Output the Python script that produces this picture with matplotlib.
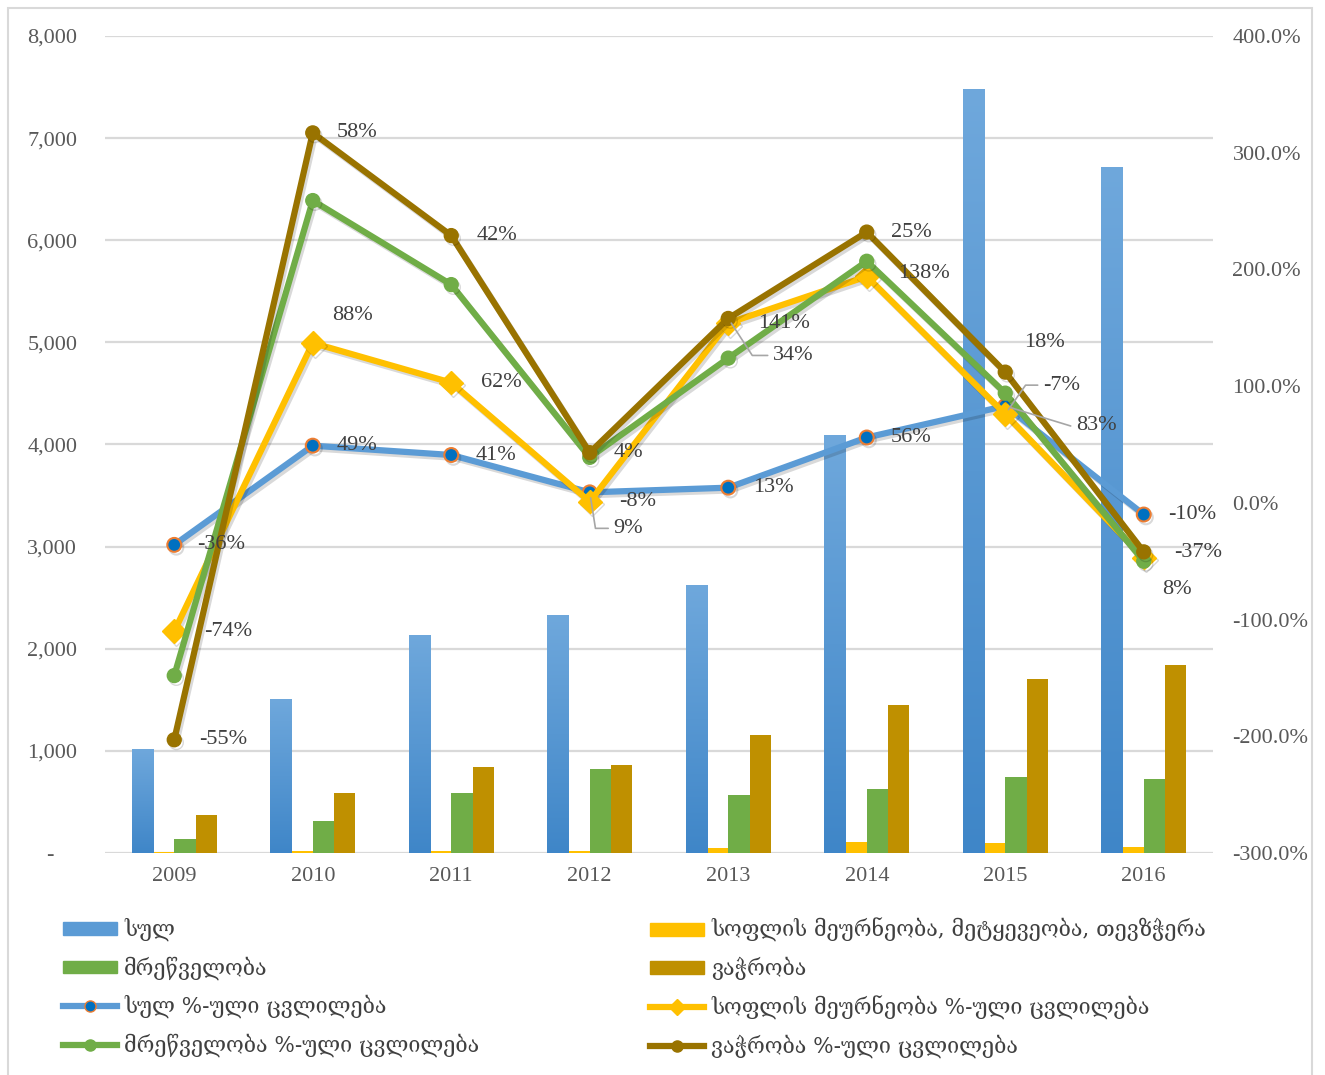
import numpy as np
import matplotlib
matplotlib.use("Agg")
import matplotlib.pyplot as plt
from matplotlib import patheffects as pe
from matplotlib.patches import Rectangle
from matplotlib.lines import Line2D
from matplotlib.ticker import FuncFormatter, MultipleLocator
from matplotlib.colors import LinearSegmentedColormap

# ---------------- data ----------------
years = ["2009", "2010", "2011", "2012", "2013", "2014", "2015", "2016"]

bar_names = ["სულ", "სოფლის მეურნეობა, მეტყევეობა, თევზჭერა", "მრეწველობა", "ვაჭრობა"]
total = [1020, 1510, 2135, 2330, 2625, 4095, 7485, 6720]
agri = [8, 15, 24, 22, 45, 110, 100, 62]
industry = [137, 313, 588, 823, 568, 627, 744, 725]
trade = [372, 588, 842, 862, 1156, 1450, 1704, 1841]

line_names = ["სულ %-ული ცვლილება", "სოფლის მეურნეობა %-ული ცვლილება",
              "მრეწველობა %-ული ცვლილება", "ვაჭრობა %-ული ცვლილება"]
total_pct = [-36, 49, 41, 9, 13, 56, 83, -10]
agri_pct = [-74, 88, 62, -8, 141, 138, -7, -37]
industry_pct = [-38, 122, 84, 38, -30, 13, 18, -3]
trade_pct = [-55, 58, 42, 4, 34, 25, 18, 8]

# labels shown on chart
total_lbl = ["-36%", "49%", "41%", "9%", "13%", "56%", "83%", "-10%"]
agri_lbl = ["-74%", "88%", "62%", "-8%", "141%", "138%", "-7%", "-37%"]
trade_lbl = ["-55%", "58%", "42%", "4%", "34%", "25%", "18%", "8%"]

# ---------------- style ----------------
c_blue = "#5B9BD5"
c_yellow = "#FFC000"
c_green = "#70AD47"
c_brown_bar = "#BF9000"
c_brown_line = "#997300"
txt_col = "#595959"
lbl_col = "#404040"
serif = ["Liberation Serif", "DejaVu Serif"]
geo = ["DejaVu Serif", "DejaVu Sans"]
fs = 16

W, H = 1325, 1075
fig = plt.figure(figsize=(W / 100, H / 100), dpi=100)
fig.patch.set_facecolor("white")
ax = fig.add_axes([105 / W, 1 - 853 / H, (1213 - 105) / W, (853 - 36) / H])
ax2 = ax.twinx()

x = np.arange(len(years))
w = 0.154
bars_blue = ax.bar(x - 1.5 * w, total, w, color=c_blue, zorder=2)
bars_y = ax.bar(x - 0.5 * w, agri, w, color=c_yellow, zorder=2)
bars_g = ax.bar(x + 0.5 * w, industry, w, color=c_green, zorder=2)
bars_b = ax.bar(x + 1.5 * w, trade, w, color=c_brown_bar, zorder=2)

# subtle vertical gradient on the blue bars
grad = np.linspace(0, 1, 256).reshape(-1, 1)
cmap_blue = LinearSegmentedColormap.from_list("b", ["#3F86C8", "#6FA8DC"])
for b in bars_blue:
    x0, wd, ht = b.get_x(), b.get_width(), b.get_height()
    im = ax.imshow(grad, extent=[x0, x0 + wd, 0, ht], origin="lower",
                   cmap=cmap_blue, aspect="auto", zorder=2.1)
    im.set_clip_path(b)

ax.set_xlim(-0.5, len(years) - 0.5)
ax.set_ylim(0, 8000)
ax.yaxis.set_major_locator(MultipleLocator(1000))
ax.yaxis.set_major_formatter(FuncFormatter(lambda v, p: "-    " if v == 0 else f"{v:,.0f}"))
ax.set_xticks(x)
ax.set_xticklabels(years)
ax.grid(axis="y", color="#D9D9D9", lw=1.6, zorder=0)
ax.set_axisbelow(True)
for s in ax.spines.values():
    s.set_visible(False)
for s in ax2.spines.values():
    s.set_visible(False)
ax.tick_params(axis="y", length=0, pad=20, labelcolor=txt_col, labelsize=fs)
ax.tick_params(axis="x", length=0, pad=10, labelcolor=txt_col, labelsize=fs)
for t in ax.get_xticklabels() + ax.get_yticklabels():
    t.set_family(serif)

ax2.set_ylim(-300, 400)
ax2.yaxis.set_major_locator(MultipleLocator(100))
ax2.yaxis.set_major_formatter(FuncFormatter(lambda v, p: f"{v:.1f}%"))
ax2.tick_params(axis="y", length=0, pad=14, labelcolor=txt_col, labelsize=fs)
for t in ax2.get_yticklabels():
    t.set_family(serif)

# stacked percentage lines
stack = np.cumsum(np.array([total_pct, agri_pct, industry_pct, trade_pct], dtype=float), axis=0)
shadow = [pe.SimpleLineShadow(offset=(1.5, -2), shadow_color="k", alpha=0.15), pe.Normal()]
lw = 4.5
ax2.plot(x, stack[0], color=c_blue, lw=lw, marker="o", ms=10, mfc="#0070C0",
         mec="#ED7D31", mew=1.5, zorder=3, path_effects=shadow)
ax2.plot(x, stack[1], color=c_yellow, lw=lw, marker="D", ms=12, mfc=c_yellow,
         mec=c_yellow, zorder=4, path_effects=shadow)
ax2.plot(x, stack[2], color=c_green, lw=lw, marker="o", ms=10, mfc=c_green,
         mec=c_green, zorder=5, path_effects=shadow)
ax2.plot(x, stack[3], color=c_brown_line, lw=lw, marker="o", ms=10, mfc=c_brown_line,
         mec=c_brown_line, zorder=6, path_effects=shadow)

# label offsets in pixels (dx, dy up) and optional leader connection angle
off_total = [(23, 0), (24, 0), (24, 0), (24, -36), (25, 0), (24, 0), (71, -20), (24, 0)]
lead_total = [None, None, None, -81, None, None, -17, None]
off_agri = [(30, 0), (19, 27), (30, 0), (29, 0), (30, 0), (31, 3), (38, 29), (30, 5)]
lead_agri = [None, None, None, None, None, None, 55, None]
off_trade = [(25, 0), (24, 0), (25, 0), (24, 0), (45, -37), (24, 0), (19, 30), (18, -38)]
lead_trade = [None, None, None, None, -57, None, None, None]


def put_labels(yvals, labels, offs, leads):
    for i, (yv, lb) in enumerate(zip(yvals, labels)):
        kw = {}
        if leads[i] is not None:
            kw["arrowprops"] = dict(arrowstyle="-", color="#A6A6A6", lw=1.2,
                                    shrinkA=2, shrinkB=4, relpos=(0, 0.5),
                                    connectionstyle=f"angle,angleA=0,angleB={leads[i]},rad=0")
        ax2.annotate(lb, xy=(x[i], yv), xytext=offs[i], textcoords="offset pixels",
                     ha="left", va="center", fontsize=fs, color=lbl_col,
                     family=serif, zorder=10, **kw)


put_labels(stack[0], total_lbl, off_total, lead_total)
put_labels(stack[1], agri_lbl, off_agri, lead_agri)
put_labels(stack[3], trade_lbl, off_trade, lead_trade)

# legends (two columns, row-major order as in reference)
h_bar = [Rectangle((0, 0), 1, 1, color=c) for c in [c_blue, c_yellow, c_green, c_brown_bar]]
h_line = [
    Line2D([], [], color=c_blue, lw=lw, marker="o", ms=8, mfc="#0070C0", mec="#ED7D31"),
    Line2D([], [], color=c_yellow, lw=lw, marker="D", ms=8, mfc=c_yellow, mec=c_yellow),
    Line2D([], [], color=c_green, lw=lw, marker="o", ms=8, mfc=c_green, mec=c_green),
    Line2D([], [], color=c_brown_line, lw=lw, marker="o", ms=8, mfc=c_brown_line, mec=c_brown_line),
]
col1 = [0, 2]
col2 = [1, 3]
leg_kw = dict(loc="upper left", frameon=False, borderpad=0, borderaxespad=0,
              handlelength=2.5, handleheight=0.55, handletextpad=0.33, labelspacing=0.70,
              prop={"family": geo, "size": 15.5}, labelcolor=lbl_col)
l1 = fig.legend([h_bar[i] for i in col1] + [h_line[i] for i in col1],
                [bar_names[i] for i in col1] + [line_names[i] for i in col1],
                bbox_to_anchor=(63 / W, 1 - 918 / H), **leg_kw)
l2 = fig.legend([h_bar[i] for i in col2] + [h_line[i] for i in col2],
                [bar_names[i] for i in col2] + [line_names[i] for i in col2],
                bbox_to_anchor=(650 / W, 1 - 918 / H), **leg_kw)

# chart border
fig.patches.append(Rectangle((8 / W, -0.01), (1312 - 8) / W, 1 - 8 / H + 0.01,
                             transform=fig.transFigure, fill=False, ec="#D9D9D9", lw=1.5))

fig.savefig("out.png", dpi=100)
